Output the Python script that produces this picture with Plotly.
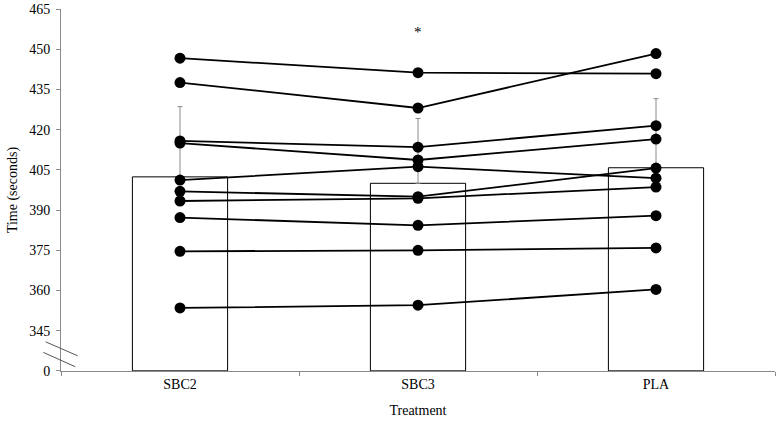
import plotly.graph_objects as go

categories = ["SBC2", "SBC3", "PLA"]
bar_means = [402.4, 400.0, 405.8]
bar_sd = [26.2, 24.2, 25.8]

subjects = [
    [446.7, 441.3, 440.9],
    [437.6, 428.1, 448.4],
    [415.8, 413.5, 421.5],
    [415.0, 408.7, 416.5],
    [401.2, 406.2, 401.9],
    [397.0, 395.0, 405.7],
    [393.4, 394.4, 398.6],
    [387.2, 384.3, 387.9],
    [374.6, 375.0, 375.9],
    [353.5, 354.5, 360.4],
]

axis_floor = 330  # the broken-axis position standing for 0
tick_vals = [330, 345, 360, 375, 390, 405, 420, 435, 450, 465]
tick_text = ["0", "345", "360", "375", "390", "405", "420", "435", "450", "465"]

font = "Liberation Serif"

fig = go.Figure()
fig.add_trace(go.Bar(
    x=categories,
    y=[m - axis_floor for m in bar_means],
    base=axis_floor,
    width=0.4,
    marker=dict(color="white", line=dict(color="black", width=1)),
    error_y=dict(type="data", symmetric=False, array=bar_sd,
                 arrayminus=[0, 0, 0], color="#8a8a8a", thickness=1, width=2.5),
    showlegend=False,
))
for s in subjects:
    fig.add_trace(go.Scatter(
        x=categories, y=s, mode="lines+markers",
        line=dict(color="black", width=1.8),
        marker=dict(color="black", size=11),
        showlegend=False,
    ))

fig.add_annotation(x="SBC3", y=456.6, text="*", showarrow=False,
                   font=dict(family=font, size=15, color="black"))

W, H = 777, 426
ml, mr, mt, mb = 61, 2, 7, 55
pw = W - ml - mr
ph = H - mt - mb
# axis break marks (pixel positions within the page)
for (x0, y0, x1, y1) in [(45.7, 341.7, 77.7, 355.7), (43.3, 352.3, 75.3, 366.7)]:
    fig.add_shape(type="line", xref="paper", yref="paper",
                  x0=(x0 - ml) / pw, x1=(x1 - ml) / pw,
                  y0=(H - mb - y0) / ph, y1=(H - mb - y1) / ph,
                  line=dict(color="#555555", width=1))

fig.update_layout(
    width=W, height=H,
    margin=dict(l=ml, r=mr, t=mt, b=mb),
    plot_bgcolor="white", paper_bgcolor="white",
    font=dict(family=font, size=14, color="black"),
)
fig.update_xaxes(
    type="category", range=[-0.5, 2.5],
    showline=True, linecolor="#8a8a8a", linewidth=1,
    ticks="outside", tickson="boundaries", ticklen=4, tickcolor="#8a8a8a",
    showgrid=False, zeroline=False,
    title=dict(text="Treatment", font=dict(family=font, size=14), standoff=14),
    tickfont=dict(family=font, size=14),
)
fig.update_yaxes(
    range=[329.95, 465.05],
    tickvals=tick_vals, ticktext=tick_text,
    showline=True, linecolor="#8a8a8a", linewidth=1,
    ticks="outside", ticklen=4, tickcolor="#8a8a8a", ticklabelstandoff=3,
    showgrid=False, zeroline=False,
    title=dict(text="Time (seconds)", font=dict(family=font, size=14), standoff=8),
    tickfont=dict(family=font, size=14),
)

fig.write_html("out.html", config={"displayModeBar": False},
               post_script="document.body.style.margin='0';document.body.style.overflow='hidden';")
